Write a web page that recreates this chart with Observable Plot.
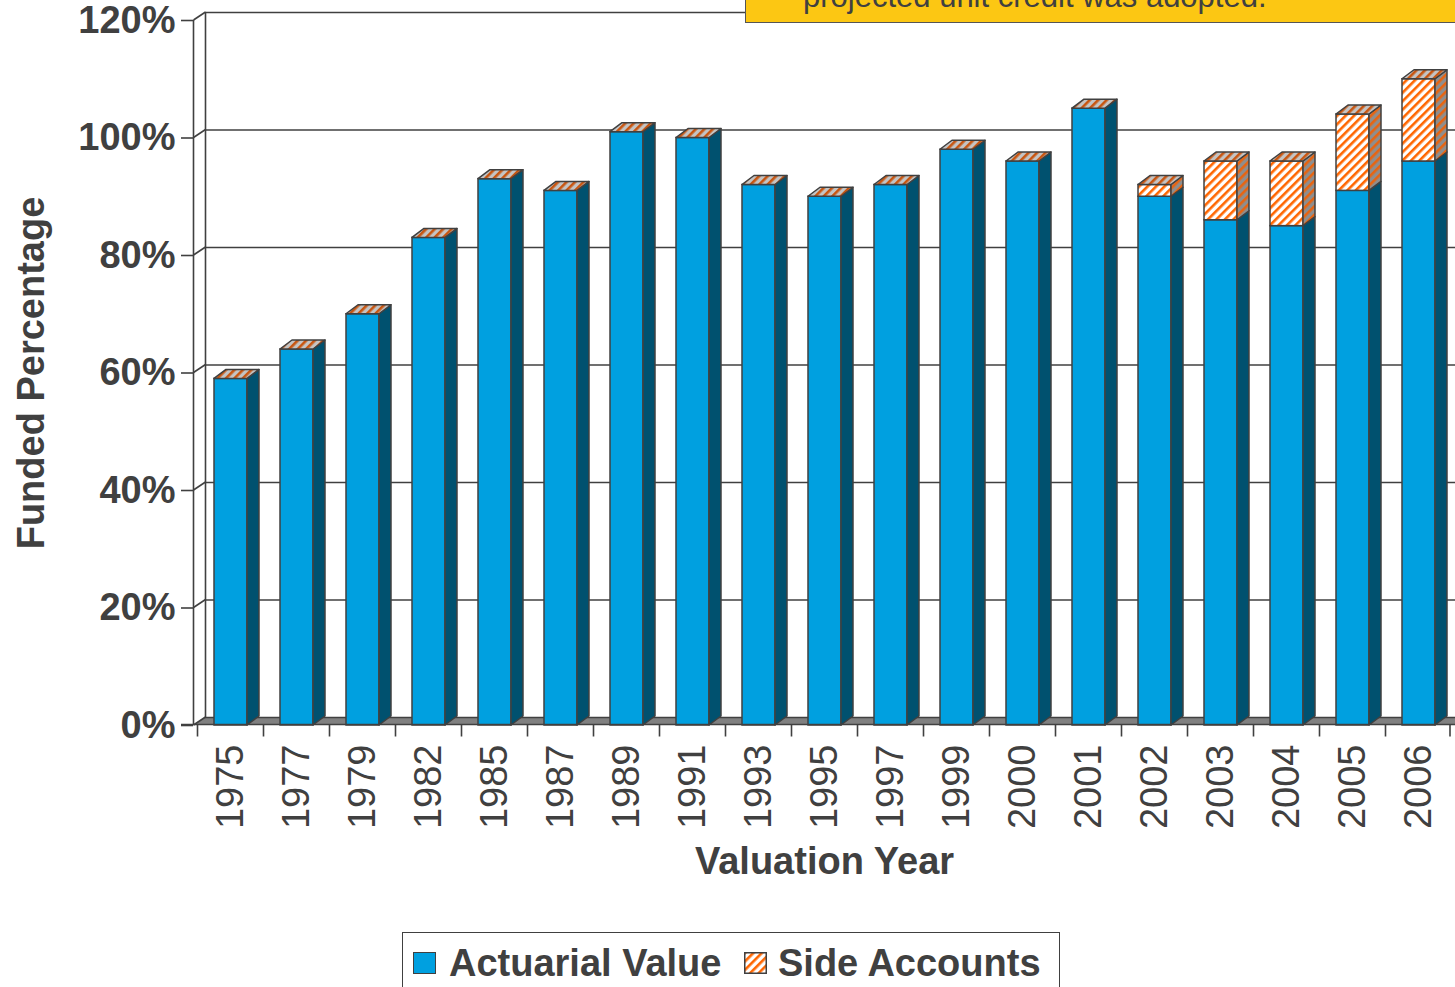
<!DOCTYPE html>
<html>
<head>
<meta charset="utf-8">
<script src="https://cdn.jsdelivr.net/npm/d3@7"></script>
<script src="https://cdn.jsdelivr.net/npm/@observablehq/plot@0.6"></script>
<style>
  html, body { margin: 0; padding: 0; background: #fff; width: 1455px; height: 987px; overflow: hidden; }
  body { position: relative; font-family: "Liberation Sans", Arial, sans-serif; color: #404040; }
  #chart svg { display: block; }
  #note { position: absolute; left: 745px; top: -70px; width: 760px; height: 93px; background: #FCC713; border: 1.5px solid #555; box-sizing: border-box; }
  #noteText { position: absolute; left: 803px; top: -19px; font-size: 31px; line-height: 31px; white-space: nowrap; color: #404040; }
  #legend { position: absolute; left: 402px; top: 932px; width: 658px; height: 90px; border: 1.5px solid #404040; box-sizing: border-box; background: #fff; }
  .lg { position: absolute; font-size: 38px; line-height: 38px; font-weight: bold; color: #404040; white-space: nowrap; }
  .sw { position: absolute; box-sizing: border-box; border: 1.5px solid #404040; }
</style>
</head>
<body>
<div id="chart"></div>
<div id="note"></div>
<div id="noteText">projected unit credit was adopted.</div>
<div id="legend"></div>
<div class="sw" id="sw1" style="left:413px; top:952px; width:23px; height:22px; background:#00A0E0;"></div>
<div class="lg" id="lt1" style="left:449px; top:944px;"></div>
<svg id="sw2" style="position:absolute; left:744px; top:952px;" width="23" height="22">
  <defs>
    <pattern id="hatchLegend" patternUnits="userSpaceOnUse" width="6" height="6" patternTransform="rotate(45)">
      <rect width="6" height="6" fill="#ffffff"></rect>
      <rect width="2.6" height="6" fill="#FF6600"></rect>
    </pattern>
  </defs>
  <rect x="0.75" y="0.75" width="21.5" height="20.5" fill="url(#hatchLegend)" stroke="#404040" stroke-width="1.5"></rect>
</svg>
<div class="lg" id="lt2" style="left:778px; top:944px;"></div>
<script>
// ---------- data ----------
const years = ["1975","1977","1979","1982","1985","1987","1989","1991","1993","1995",
               "1997","1999","2000","2001","2002","2003","2004","2005","2006"];
const actuarialValue = [59, 64, 70, 83, 93, 91, 101, 100, 92, 90, 92, 98, 96, 105, 90, 86, 85, 91, 96];
const sideAccounts   = [0, 0, 0, 0, 0, 0, 0, 0, 0, 0, 0, 0, 0, 0, 2, 10, 11, 13, 14];
const yTicks = [0, 20, 40, 60, 80, 100, 120];
const seriesNames = ["Actuarial Value", "Side Accounts"];
const xTitle = "Valuation Year";
const yTitle = "Funded Percentage";

document.getElementById("lt1").textContent = seriesNames[0];
document.getElementById("lt2").textContent = seriesNames[1];

// ---------- table ----------
const actRows = years.map((yr, i) => ({year: yr, series: seriesNames[0], y1: 0, y2: actuarialValue[i]}));
const sideRows = years.map((yr, i) => ({year: yr, series: seriesNames[1], y1: actuarialValue[i], y2: actuarialValue[i] + sideAccounts[i]}))
  .filter(d => d.y2 > d.y1);

// ---------- styling constants ----------
const DX = 12, DY = -8;      // wall depth
const BDX = 12, BDY = -9;    // bar depth
const INSET_L = 17, INSET_R = 16;
const EDGE = "#404040";
const BLUE = "#00A0E0", BLUE_SIDE = "#00516F";

function bw(x) { return typeof x.bandwidth === "function" ? x.bandwidth() : x.bandwidth; }

// floor
function floorWalls(index, scales, values, dim) {
  const y = scales.y;
  const x0 = dim.marginLeft, x1 = dim.width - dim.marginRight;
  const y0 = y(0);
  const g = d3.create("svg:g");
  g.append("path")
    .attr("d", `M${x0},${y0}L${x0 + DX},${y0 + DY}L${x1 + DX},${y0 + DY}L${x1},${y0}Z`)
    .attr("fill", "#808080");
  return g.node();
}
// left wall
function wallLines(index, scales, values, dim) {
  const y = scales.y;
  const x0 = dim.marginLeft + 0.5;
  const y0 = y(0), yT = y(yTicks[yTicks.length - 1]);
  const g = d3.create("svg:g").attr("stroke", EDGE).attr("stroke-width", 1.6).attr("fill", "none");
  g.append("line").attr("x1", x0 + DX).attr("x2", x0 + DX).attr("y1", yT + DY).attr("y2", y0 + DY);
  g.append("line").attr("x1", x0).attr("x2", x0).attr("y1", yT).attr("y2", y0);
  for (const t of yTicks) {
    g.append("line").attr("x1", x0).attr("y1", y(t)).attr("x2", x0 + DX).attr("y2", y(t) + DY);
  }
  return g.node();
}
// 3D sides and tops of bars
function barDepth(index, scales, values, dim) {
  const x = scales.x, y = scales.y, w = bw(x);
  const g = d3.create("svg:g").attr("stroke", EDGE).attr("stroke-width", 1.5).attr("stroke-linejoin", "round");
  const poly = (pts, fill) => g.append("path").attr("d", "M" + pts.map(p => p.join(",")).join("L") + "Z").attr("fill", fill);
  years.forEach((yr, i) => {
    const xl = x(yr) + INSET_L, xr = x(yr) + w - INSET_R;
    const a = actuarialValue[i], t = a + sideAccounts[i];
    poly([[xr, y(0)], [xr + BDX, y(0) + BDY], [xr + BDX, y(a) + BDY], [xr, y(a)]], BLUE_SIDE);
    if (t > a) poly([[xr, y(a)], [xr + BDX, y(a) + BDY], [xr + BDX, y(t) + BDY], [xr, y(t)]], "url(#hatchSide)");
    poly([[xl, y(t)], [xl + BDX, y(t) + BDY], [xr + BDX, y(t) + BDY], [xr, y(t)]], "url(#hatchTop)");
  });
  return g.node();
}
// front x axis line and band-boundary ticks
function xAxisLine(index, scales, values, dim) {
  const x = scales.x, y = scales.y, w = bw(x);
  const y0 = y(0) - 0.5;
  const g = d3.create("svg:g").attr("stroke", EDGE).attr("stroke-width", 1.6);
  g.append("line").attr("x1", dim.marginLeft - 12).attr("x2", dim.width).attr("y1", y0).attr("y2", y0);
  years.forEach((yr) => {
    const xb = x(yr) + 0.5;
    g.append("line").attr("x1", xb).attr("x2", xb).attr("y1", y0).attr("y2", y0 + 12);
  });
  const xe = x(years[years.length - 1]) + w - 1;
  g.append("line").attr("x1", xe).attr("x2", xe).attr("y1", y0).attr("y2", y0 + 12);
  return g.node();
}

const plot = Plot.plot({
  width: 1455,
  height: 930,
  marginLeft: 193,
  marginRight: 0,
  marginTop: 20,
  marginBottom: 205,
  style: {fontFamily: '"Liberation Sans", Arial, sans-serif', fontSize: "38px", color: "#404040", background: "transparent", overflow: "visible"},
  x: {type: "band", domain: years, padding: 0},
  y: {domain: [0, 120]},
  marks: [
    floorWalls,
    Plot.gridY(yTicks, {dx: DX, dy: DY, stroke: EDGE, strokeOpacity: 1, strokeWidth: 1.6}),
    wallLines,
    Plot.barY(actRows, {x: "year", y1: "y1", y2: "y2", fill: BLUE, stroke: EDGE, strokeWidth: 1.5, insetLeft: INSET_L, insetRight: INSET_R}),
    Plot.barY(sideRows, {x: "year", y1: "y1", y2: "y2", fill: "url(#hatchFront)", stroke: EDGE, strokeWidth: 1.5, insetLeft: INSET_L, insetRight: INSET_R}),
    barDepth,
    xAxisLine,
    Plot.axisY(yTicks, {tickSize: 12, tickPadding: 6, tickFormat: d => d + "%", fontWeight: "bold", fontSize: 38, strokeWidth: 1.6, label: null}),
    Plot.axisX({tickRotate: -90, tickSize: 0, tickPadding: 19, fontSize: 38, label: null}),
    Plot.text([xTitle], {text: d => d, frameAnchor: "bottom", dy: 148, fontSize: 38, fontWeight: "bold", fill: "#404040"}),
    Plot.text([yTitle], {text: d => d, frameAnchor: "left", textAnchor: "middle", dx: -162, rotate: -90, fontSize: 38, fontWeight: "bold", fill: "#404040"})
  ]
});

document.getElementById("chart").appendChild(plot);
const svgEl = plot.tagName.toLowerCase() === "svg" ? plot : plot.querySelector("svg");
const defs = d3.select(svgEl).insert("defs", ":first-child");
function addPattern(id, bg, fg) {
  const p = defs.append("pattern").attr("id", id).attr("patternUnits", "userSpaceOnUse")
    .attr("width", 6).attr("height", 6).attr("patternTransform", "rotate(45)");
  p.append("rect").attr("width", 6).attr("height", 6).attr("fill", bg);
  p.append("rect").attr("width", 2.6).attr("height", 6).attr("fill", fg);
}
addPattern("hatchFront", "#ffffff", "#FF6600");
addPattern("hatchTop", "#C4C4C4", "#C85510");
addPattern("hatchSide", "#8E8E8E", "#E86410");
</script>
</body>
</html>
